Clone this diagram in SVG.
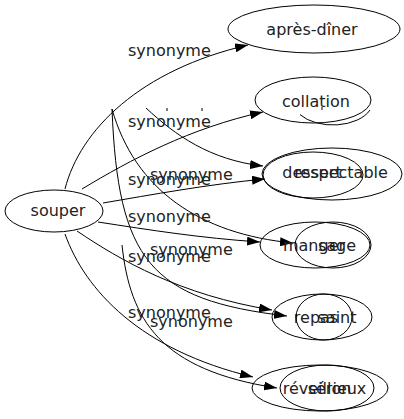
<svg xmlns="http://www.w3.org/2000/svg" width="404" height="419" viewBox="0 0 404 419">
<style>
.n{fill:none;stroke:#000;stroke-width:1}
.e{fill:none;stroke:#000;stroke-width:1}
text{font-family:"DejaVu Sans",sans-serif;font-size:16px;fill:#222}
.t{text-anchor:middle}
</style>
<defs>
<marker id="ah" markerWidth="13" markerHeight="9" refX="13" refY="4.5" orient="auto" markerUnits="userSpaceOnUse">
<path d="M0,0 L13,4.5 L0,9 z" fill="#000"/>
</marker>
</defs>
<rect width="404" height="419" fill="#fff"/>
<g id="connectors">
<path class="e" marker-end="url(#ah)" d="M65,189 C80,130 140,70 248,45"/>
<path class="e" marker-end="url(#ah)" d="M82,189 C130,160 190,128 263,112"/>
<path class="e" marker-end="url(#ah)" d="M103,203 C150,195 210,184 265,179"/>
<path class="e" marker-end="url(#ah)" d="M98,222 C150,230 200,238 260,242"/>
<path class="e" marker-end="url(#ah)" d="M77,231 C120,260 180,295 272,310"/>
<path class="e" marker-end="url(#ah)" d="M65,234 C85,290 140,350 253,377"/>
<path class="e" marker-end="url(#ah)" d="M146,108 C175,135 210,160 263,166"/>
<path class="e" marker-end="url(#ah)" d="M112,109 C135,190 200,234 293,243"/>
<path class="e" marker-end="url(#ah)" d="M112,109 C118,260 150,300 287,316"/>
<path class="e" marker-end="url(#ah)" d="M122,245 C130,320 160,370 277,388"/>
<path class="e" d="M167,108 L167,111 M202,108 L202,111"/>
<text x="128" y="56">synonyme</text>
<text x="128" y="127">synonyme</text>
<text x="128" y="185">synonyme</text>
<text x="150" y="180">synonyme</text>
<text x="128" y="222">synonyme</text>
<text x="150" y="255">synonyme</text>
<text x="128" y="262">synonyme</text>
<text x="128" y="318">synonyme</text>
<text x="150" y="327">synonyme</text>
</g>
<g id="souper">
<ellipse class="n" cx="54" cy="211" rx="49" ry="21"/>
<text class="t" x="58" y="216">souper</text>
</g>
<g id="apres-diner">
<ellipse class="n" cx="314" cy="29" rx="86" ry="24"/>
<text class="t" x="312" y="35">après-dîner</text>
</g>
<g id="collation">
<ellipse class="n" cx="313" cy="100" rx="58" ry="23"/>
<text class="t" x="316" y="107">collation</text>
<path class="n" d="M300,114.6 A40,24 0 0 0 370,110"/>
<path class="n" d="M322,107 L322,110"/>
</g>
<g id="dessert">
<ellipse class="n" cx="313" cy="175" rx="50" ry="23"/>
<text class="t" x="312" y="178">dessert</text>
</g>
<g id="respectable">
<ellipse class="n" cx="332" cy="174" rx="70" ry="26"/>
<text class="t" x="341" y="178">respectable</text>
</g>
<g id="manger">
<ellipse class="n" cx="315" cy="245" rx="55" ry="23"/>
<text class="t" x="314" y="251">manger</text>
</g>
<g id="sage">
<ellipse class="n" cx="333" cy="245" rx="38" ry="23"/>
<text class="t" x="337" y="251">sage</text>
</g>
<g id="repas">
<ellipse class="n" cx="322" cy="317" rx="50" ry="23"/>
<text class="t" x="316" y="323">repas</text>
</g>
<g id="saint">
<ellipse class="n" cx="324" cy="317" rx="28" ry="23"/>
<text class="t" x="337" y="323">saint</text>
</g>
<g id="reveillon">
<ellipse class="n" cx="320" cy="388" rx="68" ry="23"/>
<text class="t" x="317" y="394">réveillon</text>
</g>
<g id="serieux">
<ellipse class="n" cx="327" cy="388" rx="47" ry="23"/>
<text class="t" x="337" y="394">sérieux</text>
</g>
</svg>
